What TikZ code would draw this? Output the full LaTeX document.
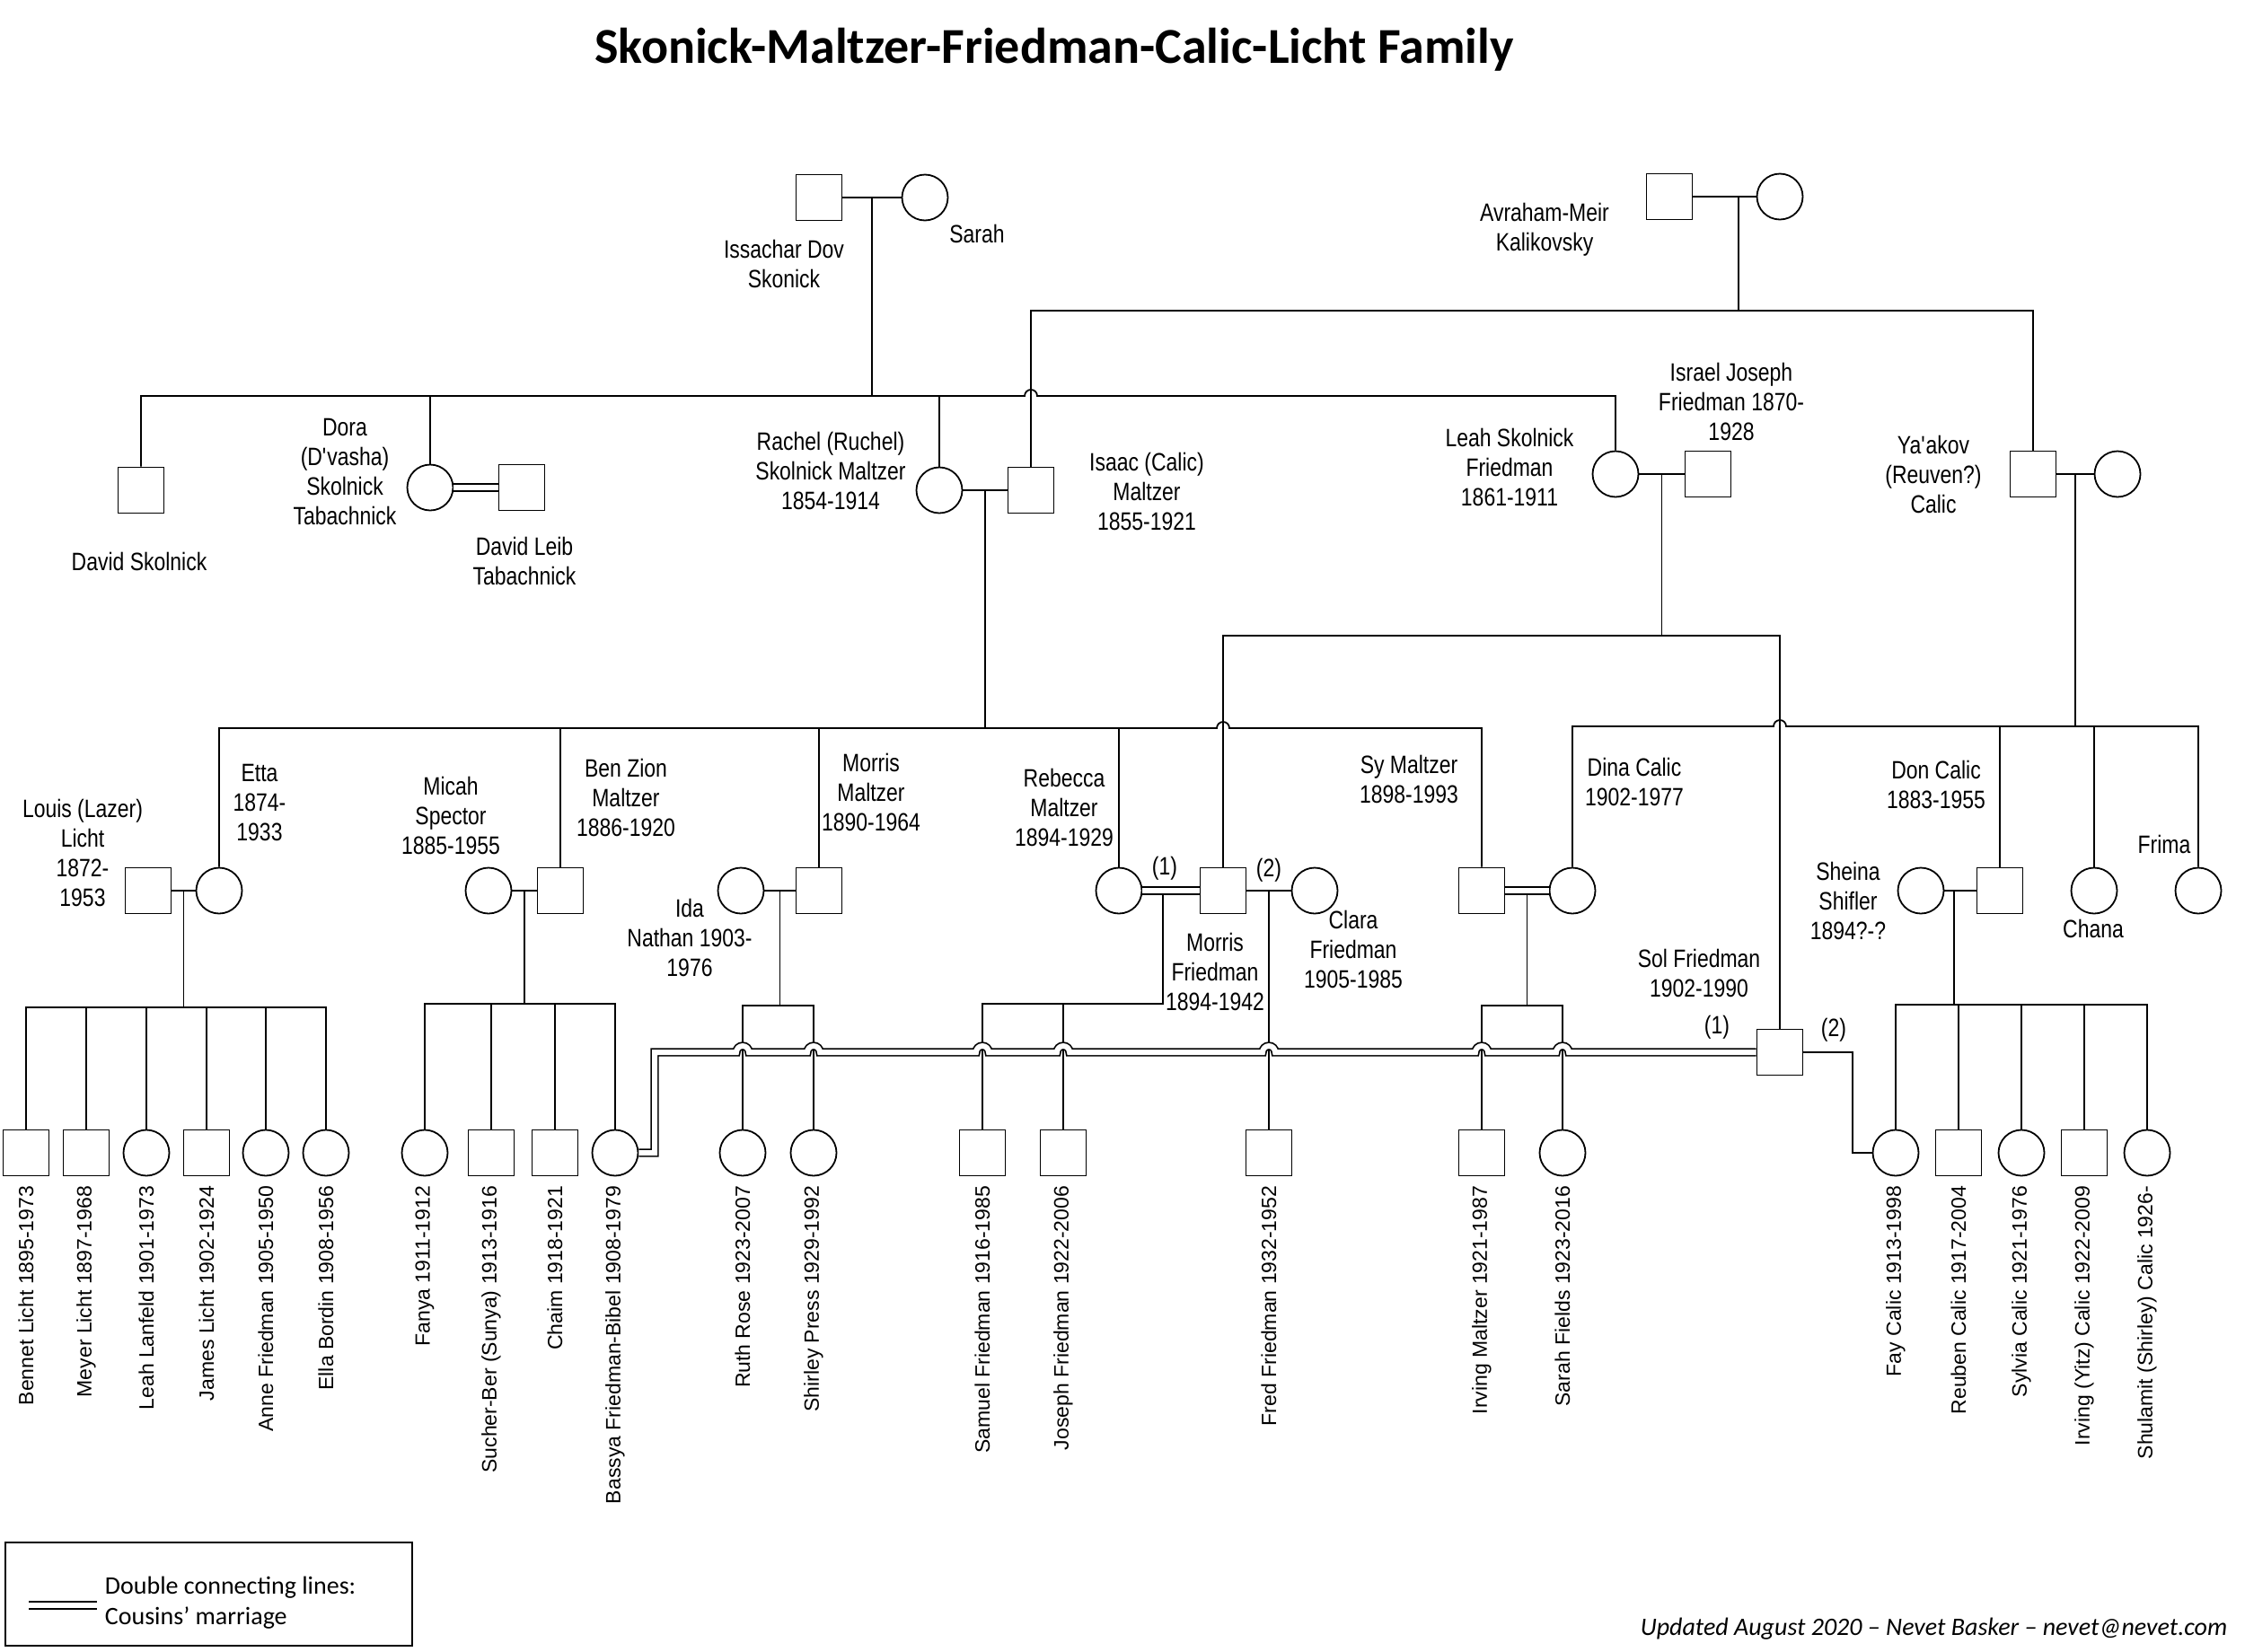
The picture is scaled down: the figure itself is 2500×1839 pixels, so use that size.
\documentclass[tikz,border=0pt]{standalone}
\usepackage{fontspec}
\setmainfont{Liberation Sans}
\newfontfamily\narrowfont[FakeStretch=0.82]{Liberation Sans}
\newfontfamily\calfont{Carlito}
\usetikzlibrary{calc}

\begin{document}
\begin{tikzpicture}[
  x=1pt, y=-1pt,
  line width=1.8pt,
  male/.style={draw, rectangle, minimum size=51pt, inner sep=0pt},
  female/.style={draw, circle, minimum size=51pt, inner sep=0pt},
  who/.style={align=center, inner sep=0pt, font=\narrowfont\fontsize{28}{33}\selectfont},
  kidname/.style={anchor=east, rotate=90, inner sep=0pt, font=\fontsize{23}{28}\selectfont},
  cousins/.style={double, double distance=6pt, line width=1.7pt}
]
\useasboundingbox (0,0) rectangle (2500,1839);

\node[font=\calfont\bfseries\fontsize{56}{66}\selectfont] (title) at (1174,55) {Skonick-Maltzer-Friedman-Calic-Licht Family};

% first generation
\node[male] (issachar) at (912,220) {};
\node[female] (sarah) at (1030,220) {};
\node[male] (avraham) at (1859,219) {};
\node[female] (avwife) at (1982,219) {};

% second generation
\node[male] (davidS) at (157,546) {};
\node[female] (dora) at (479,543) {};
\node[male] (davidL) at (581,543) {};
\node[female] (rachel) at (1046,546) {};
\node[male] (isaac) at (1148,546) {};
\node[female] (leah) at (1799,528) {};
\node[male] (israel) at (1902,528) {};
\node[male] (yaakov) at (2264,528) {};
\node[female] (ywife) at (2358,528) {};

% third generation
\node[male] (louis) at (165,992) {};
\node[female] (etta) at (244,992) {};
\node[female] (micah) at (544,992) {};
\node[male] (benzion) at (624,992) {};
\node[female] (ida) at (825,992) {};
\node[male] (morrisM) at (912,992) {};
\node[female] (rebecca) at (1246,992) {};
\node[male] (morrisF) at (1362,992) {};
\node[female] (clara) at (1464,992) {};
\node[male] (sy) at (1650,992) {};
\node[female] (dina) at (1751,992) {};
\node[female] (sheina) at (2139,992) {};
\node[male] (don) at (2227,992) {};
\node[female] (chana) at (2332,992) {};
\node[female] (frima) at (2448,992) {};
\node[male] (sol) at (1982,1172) {};

% fourth generation
\node[male] (bennet) at (29,1284) {};
\node[male] (meyer) at (96,1284) {};
\node[female] (leahL) at (163,1284) {};
\node[male] (james) at (230,1284) {};
\node[female] (anne) at (296,1284) {};
\node[female] (ella) at (363,1284) {};
\node[female] (fanya) at (473,1284) {};
\node[male] (sucher) at (547,1284) {};
\node[male] (chaim) at (618,1284) {};
\node[female] (bassya) at (685,1284) {};
\node[female] (ruth) at (827,1284) {};
\node[female] (shirley) at (906,1284) {};
\node[male] (samuel) at (1094,1284) {};
\node[male] (joseph) at (1184,1284) {};
\node[male] (fred) at (1413,1284) {};
\node[male] (irving) at (1650,1284) {};
\node[female] (sarahF) at (1740,1284) {};
\node[female] (fay) at (2111,1284) {};
\node[male] (reuben) at (2181,1284) {};
\node[female] (sylvia) at (2251,1284) {};
\node[male] (irvingC) at (2321,1284) {};
\node[female] (shulamit) at (2391,1284) {};

% names
\node[who] (issacharN) at (873,294) {Issachar Dov\\Skonick};
\node[who] (sarahN) at (1088,260) {Sarah};
\node[who] (avrahamN) at (1720,256) {Avraham-Meir\\Kalikovsky};
\node[who] (davidSN) at (155,625) {David Skolnick};
\node[who] (doraN) at (384,525) {Dora\\(D\textquotesingle vasha)\\Skolnick\\Tabachnick};
\node[who] (davidLN) at (584,625) {David Leib\\Tabachnick};
\node[who] (rachelN) at (925,524) {Rachel (Ruchel)\\Skolnick Maltzer\\1854-1914};
\node[who] (isaacN) at (1277,547) {Isaac (Calic)\\Maltzer\\1855-1921};
\node[who] (leahN) at (1681,520) {Leah Skolnick\\Friedman\\1861-1911};
\node[who] (israelN) at (1928,447) {Israel Joseph\\Friedman 1870-\\1928};
\node[who] (yaakovN) at (2153,528) {Ya\textquotesingle akov\\(Reuven?)\\Calic};
\node[who] (louisN) at (92,950) {Louis (Lazer)\\Licht\\1872-\\1953};
\node[who] (ettaN) at (289,894) {Etta\\1874-\\1933};
\node[who] (micahN) at (502,908) {Micah\\Spector\\1885-1955};
\node[who] (benzionN) at (697,888) {Ben Zion\\Maltzer\\1886-1920};
\node[who] (morrisMN) at (970,882) {Morris\\Maltzer\\1890-1964};
\node[who] (idaN) at (768,1044) {Ida\\Nathan 1903-\\1976};
\node[who] (rebeccaN) at (1185,899) {Rebecca\\Maltzer\\1894-1929};
\node[who] (morrisFN) at (1353,1082) {Morris\\Friedman\\1894-1942};
\node[who] (claraN) at (1507,1057) {Clara\\Friedman\\1905-1985};
\node[who] (syN) at (1569,868) {Sy Maltzer\\1898-1993};
\node[who] (dinaN) at (1820,871) {Dina Calic\\1902-1977};
\node[who] (donN) at (2156,874) {Don Calic\\1883-1955};
\node[who] (sheinaN) at (2058,1003) {Sheina\\Shifler\\1894?-?};
\node[who] (chanaN) at (2331,1034) {Chana};
\node[who] (frimaN) at (2410,940) {Frima};
\node[who] (solN) at (1892,1084) {Sol Friedman\\1902-1990};
\node[who] (mf1) at (1297,967) {(1)};
\node[who] (mf2) at (1413,969) {(2)};
\node[who] (sol1) at (1912,1144) {(1)};
\node[who] (sol2) at (2042,1147) {(2)};

\node[kidname] (bennetN) at (29,1320) {Bennet Licht 1895-1973};
\node[kidname] (meyerN) at (96,1320) {Meyer Licht 1897-1968};
\node[kidname] (leahLN) at (163,1320) {Leah Lanfeld 1901-1973};
\node[kidname] (jamesN) at (230,1320) {James Licht 1902-1924};
\node[kidname] (anneN) at (296,1320) {Anne Friedman 1905-1950};
\node[kidname] (ellaN) at (363,1320) {Ella Bordin 1908-1956};
\node[kidname] (fanyaN) at (473,1320) {Fanya 1911-1912};
\node[kidname] (sucherN) at (547,1320) {Sucher-Ber (Sunya) 1913-1916};
\node[kidname] (chaimN) at (618,1320) {Chaim 1918-1921};
\node[kidname] (bassyaN) at (685,1320) {Bassya Friedman-Bibel 1908-1979};
\node[kidname] (ruthN) at (827,1320) {Ruth Rose 1923-2007};
\node[kidname] (shirleyN) at (906,1320) {Shirley Press 1929-1992};
\node[kidname] (samuelN) at (1094,1320) {Samuel Friedman 1916-1985};
\node[kidname] (josephN) at (1184,1320) {Joseph Friedman 1922-2006};
\node[kidname] (fredN) at (1413,1320) {Fred Friedman 1932-1952};
\node[kidname] (irvingN) at (1650,1320) {Irving Maltzer 1921-1987};
\node[kidname] (sarahFN) at (1740,1320) {Sarah Fields 1923-2016};
\node[kidname] (fayN) at (2111,1320) {Fay Calic 1913-1998};
\node[kidname] (reubenN) at (2181,1320) {Reuben Calic 1917-2004};
\node[kidname] (sylviaN) at (2251,1320) {Sylvia Calic 1921-1976};
\node[kidname] (irvingCN) at (2321,1320) {Irving (Yitz) Calic 1922-2009};
\node[kidname] (shulamitN) at (2391,1320) {Shulamit (Shirley) Calic 1926-};

% bars and marriage points
\coordinate (kalbar) at (0,346);
\coordinate (skolbar) at (0,441);
\coordinate (friedbar) at (0,708);
\coordinate (calbar) at (0,809);
\coordinate (malbar) at (0,811);
\coordinate (lichtbar) at (0,1122);
\coordinate (specbar) at (0,1118);
\coordinate (idabar) at (0,1120);
\coordinate (rebbar) at (0,1118);
\coordinate (sybar) at (0,1120);
\coordinate (donbar) at (0,1119);
\coordinate (bend) at (729,1172);
\coordinate (solb) at (2063,1172);

\coordinate (skolM) at ($(issachar.east)!0.5!(sarah.west)$);
\coordinate (kalM) at ($(avraham.east)!0.72!(avwife.west)$);
\coordinate (malM) at ($(rachel.east)!0.5!(isaac.west)$);
\coordinate (friM) at ($(leah.east)!0.5!(israel.west)$);
\coordinate (yakM) at ($(yaakov.east)!0.5!(ywife.west)$);
\coordinate (lichtM) at ($(louis.east)!0.5!(etta.west)$);
\coordinate (specM) at ($(micah.east)!0.5!(benzion.west)$);
\coordinate (idaM) at ($(ida.east)!0.5!(morrisM.west)$);
\coordinate (remM) at ($(rebecca.east)!0.36!(morrisF.west)$);
\coordinate (claM) at ($(morrisF.east)!0.5!(clara.west)$);
\coordinate (syM) at ($(sy.east)!0.5!(dina.west)$);
\coordinate (donM) at ($(sheina.east)!0.3!(don.west)$);

% marriages
\draw (issachar) -- (sarah);
\draw (avraham) -- (avwife);
\draw (rachel) -- (isaac);
\draw (leah) -- (israel);
\draw (yaakov) -- (ywife);
\draw (louis) -- (etta);
\draw (micah) -- (benzion);
\draw (ida) -- (morrisM);
\draw (morrisF) -- (clara);
\draw (sheina) -- (don);
\draw (sol.east) -- (solb) |- (fay.west);

% Skolnick children
\draw (skolM) -- (skolM |- skolbar);
\draw (davidS.north) |- ($(isaac.north |- skolbar)+(-7,0)$) arc[start angle=180, end angle=0, radius=7pt] -| (leah.north);
\draw (dora.north) -- (dora.north |- skolbar);
\draw (rachel.north) -- (rachel.north |- skolbar);

% Kalikovsky children
\draw (kalM) -- (kalM |- kalbar);
\draw (isaac.north) |- (yaakov.north |- kalbar) -- (yaakov.north);

% Maltzer children
\draw (malM) -- (malM |- malbar);
\draw (etta.north) |- ($(morrisF.north |- malbar)+(-7,0)$) arc[start angle=180, end angle=0, radius=7pt] -| (sy.north);
\draw (benzion.north) -- (benzion.north |- malbar);
\draw (morrisM.north) -- (morrisM.north |- malbar);
\draw (rebecca.north) -- (rebecca.north |- malbar);

% Friedman children
\draw (friM) -- (friM |- friedbar);
\draw (morrisF.north) |- (sol.north |- friedbar) -- (sol.north);

% Calic children
\draw (yakM) -- (yakM |- calbar);
\draw (dina.north) |- ($(sol.north |- calbar)+(-7,0)$) arc[start angle=180, end angle=0, radius=7pt] -| (frima.north);
\draw (don.north) -- (don.north |- calbar);
\draw (chana.north) -- (chana.north |- calbar);

% grandchildren
\draw (lichtM) -- (lichtM |- lichtbar);
\draw (bennet.north) |- (ella.north |- lichtbar) -- (ella.north);
\foreach \k in {meyer, leahL, james, anne}
  \draw (\k.north) -- (\k.north |- lichtbar);

\draw (specM) -- (specM |- specbar);
\draw (fanya.north) |- (bassya.north |- specbar) -- (bassya.north);
\foreach \k in {sucher, chaim}
  \draw (\k.north) -- (\k.north |- specbar);

\draw (idaM) -- (idaM |- idabar);
\draw (ruth.north) |- (shirley.north |- idabar) -- (shirley.north);

\draw (remM) |- (samuel.north |- rebbar) -- (samuel.north);
\draw (joseph.north) -- (joseph.north |- rebbar);

\draw (claM) -- (fred.north);

\draw (syM) -- (syM |- sybar);
\draw (irving.north) |- (sarahF.north |- sybar) -- (sarahF.north);

\draw (donM) -- (donM |- donbar);
\draw (fay.north) |- (shulamit.north |- donbar) -- (shulamit.north);
\foreach \k in {reuben, sylvia, irvingC}
  \draw (\k.north) -- (\k.north |- donbar);

% cousins' marriages
\draw[cousins] (dora) -- (davidL);
\draw[cousins] (rebecca) -- (morrisF);
\draw[cousins] (sy) -- (dina);
\draw[cousins] (bassya.east) -| (bend)
  \foreach \k in {ruth, shirley, samuel, joseph, fred, irving, sarahF} {
    -- ($(\k.north |- bend)+(-7,0)$) arc[start angle=180, end angle=0, radius=7pt]
  } -- (sol.west);

% legend and footer
\node[draw, anchor=north west, minimum width=453pt, minimum height=115pt, inner sep=0pt] (legend) at (5,1717) {};
\coordinate (legA) at (32,1788);
\coordinate (legB) at (108,1788);
\draw[cousins] (legA) -- (legB);
\node[anchor=west, align=left, inner sep=0pt, font=\calfont\fontsize{28}{34}\selectfont] (legtext) at (116,1785) {Double connecting lines:\\Cousins’ marriage};
\node[anchor=east, inner sep=0pt, font=\calfont\itshape\fontsize{28}{33}\selectfont] (footer) at (2481,1814) {Updated August 2020 – Nevet Basker – nevet@nevet.com};
\end{tikzpicture}
\end{document}
